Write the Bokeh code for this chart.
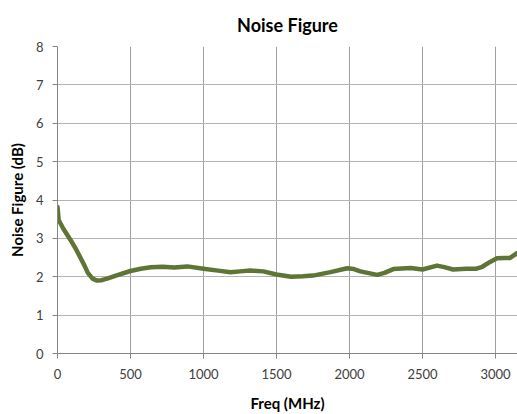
from bokeh.plotting import figure
from bokeh.models import Range1d, FixedTicker
from bokeh.embed import file_html
from bokeh.resources import INLINE

freq_mhz = [0, 8, 40, 89, 125, 158, 185, 208, 240, 270, 300, 340, 400, 500, 570, 640, 720, 800, 890, 1000,
            1100, 1185, 1250, 1320, 1410, 1500, 1600, 1680, 1750, 1870, 1985, 2030, 2075, 2190, 2240,
            2300, 2420, 2500, 2600, 2650, 2710, 2800, 2870, 2910, 2960, 3010, 3060, 3100, 3150]
noise_figure_db = [3.82, 3.48, 3.25, 2.96, 2.73, 2.49, 2.29, 2.1, 1.95, 1.90, 1.91, 1.95, 2.03, 2.15, 2.21, 2.25, 2.26, 2.24, 2.27, 2.21,
                   2.16, 2.12, 2.14, 2.16, 2.14, 2.06, 2.0, 2.01, 2.03, 2.12, 2.22, 2.2, 2.14, 2.05, 2.1,
                   2.2, 2.23, 2.19, 2.29, 2.25, 2.19, 2.21, 2.21, 2.26, 2.38, 2.48, 2.49, 2.49, 2.62]
x_ticks = [0, 500, 1000, 1500, 2000, 2500, 3000]
y_ticks = [0, 1, 2, 3, 4, 5, 6, 7, 8]

FONT = "Lato"
p = figure(width=517, height=414, output_backend="svg", toolbar_location=None,
           title="Noise Figure", x_range=Range1d(0, 3151), y_range=Range1d(0, 8),
           min_border_left=57, min_border_right=0, min_border_top=46, min_border_bottom=60)
p.outline_line_color = None
p.background_fill_color = "white"
p.border_fill_color = "white"

p.title.align = "center"
p.title.text_font = FONT
p.title.text_font_size = "18px"
p.title.text_font_style = "bold"
p.title.text_color = "#000000"
p.title.standoff = 22

p.line(freq_mhz, noise_figure_db, line_color="#5f7536", line_width=4.5, line_join="round", line_cap="round")

for ax in (p.xaxis[0], p.yaxis[0]):
    ax.axis_line_color = "#868686"
    ax.major_tick_line_color = "#868686"
    ax.major_tick_out = 5
    ax.major_tick_in = 0
    ax.minor_tick_line_color = None
    ax.major_label_text_font = FONT
    ax.major_label_text_font_size = "13px"
    ax.major_label_text_color = "#404040"
    ax.axis_label_text_font = FONT
    ax.axis_label_text_font_size = "15px"
    ax.axis_label_text_font_style = "bold"
    ax.axis_label_text_color = "#000000"

p.xaxis.ticker = FixedTicker(ticks=x_ticks)
p.yaxis.ticker = FixedTicker(ticks=y_ticks)
p.xaxis.axis_label = "Freq (MHz)"
p.yaxis.axis_label = "Noise Figure (dB)"
p.xaxis.major_label_standoff = 10
p.yaxis.major_label_standoff = 9
p.xaxis.axis_label_standoff = 12
p.yaxis.axis_label_standoff = 7

p.xgrid.grid_line_color = "#a0a0a0"
p.ygrid.grid_line_color = "#b4b4b4"
p.xgrid.ticker = FixedTicker(ticks=x_ticks)
p.ygrid.ticker = FixedTicker(ticks=y_ticks)

open("out.html", "w").write(file_html(p, INLINE))
